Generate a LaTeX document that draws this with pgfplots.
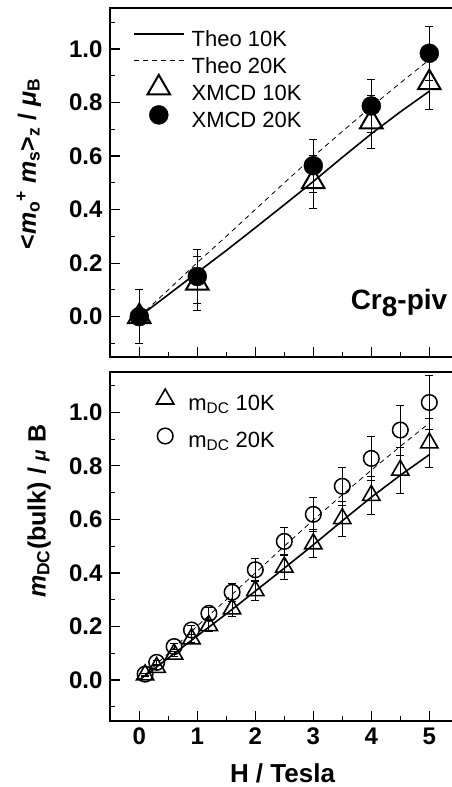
\documentclass[border=0pt]{standalone}
\usepackage{fontspec}
\setmainfont{Liberation Sans}
\usepackage{pgfplots}
\pgfplotsset{compat=1.18}
\newcommand{\fs}[1]{\fontsize{#1}{#1}\selectfont}

\pgfplotstableread{
x y
0 0
0.5 0.082
1 0.165
1.5 0.247
2 0.332
2.5 0.418
3 0.505
3.5 0.595
4 0.683
4.5 0.765
5 0.842
}\theoA
\pgfplotstableread{
x y
0 0
0.5 0.10
1 0.202
1.5 0.30
2 0.40
2.5 0.50
3 0.598
3.5 0.692
4 0.784
4.5 0.873
5 0.96
}\theoB
\pgfplotstableread{
x y e
0 0 0.1
1 0.125 0.1
3 0.504 0.1
4 0.728 0.1
5 0.874 0.1
}\xmcdA
\pgfplotstableread{
x y e
0 0 0.1
1 0.15 0.1
3 0.564 0.1
4 0.787 0.1
5 0.984 0.1
}\xmcdB
\pgfplotstableread{
x y e
0.1 0.019 0.004
0.3 0.047 0.006
0.6 0.097 0.010
0.9 0.154 0.015
1.2 0.203 0.020
1.6 0.266 0.027
2.0 0.334 0.038
2.5 0.422 0.046
3.0 0.509 0.052
3.5 0.603 0.065
4.0 0.690 0.072
4.5 0.784 0.085
5.0 0.886 0.092
}\dcA
\pgfplotstableread{
x y e
0.1 0.022 0.004
0.3 0.066 0.007
0.6 0.125 0.012
0.9 0.187 0.018
1.2 0.249 0.024
1.6 0.328 0.034
2.0 0.412 0.043
2.5 0.518 0.051
3.0 0.619 0.062
3.5 0.724 0.072
4.0 0.828 0.083
4.5 0.934 0.093
5.0 1.037 0.100
}\dcB

\pgfplotsset{
  panel/.style={
    scale only axis, width=345pt, height=349pt,
    xmin=-0.505, xmax=5.443, ymin=-0.152, ymax=1.152,
    xtick={0,1,2,3,4,5}, minor xtick={0.5,1.5,2.5,3.5,4.5},
    ytick={0,0.2,0.4,0.6,0.8,1.0}, minor ytick={-0.1,0.1,0.3,0.5,0.7,0.9,1.1},
    xtick pos=left, ytick pos=left, tick align=inside,
    major tick length=10pt, minor tick length=5pt,
    tick style={black, line width=1.1pt},
    axis line style={line width=1.8pt},
    /pgf/number format/assume math mode=true,
    xticklabel style={font=\fs{24}\bfseries, yshift=-4pt},
    yticklabel style={font=\fs{24}\bfseries, xshift=-4pt, /pgf/number format/.cd, fixed, fixed zerofill, precision=1},
    error bars/error bar style={line width=0.8pt, black},
    error bars/error mark options={rotate=90, mark size=4pt, line width=0.8pt, black},
    legend cell align=left,
  },
  lineleg/.style={legend image code/.code={\draw[##1, yshift=7pt] (0pt,0pt) -- (50pt,0pt);}},
  markleg/.style={legend image code/.code={\path (0pt,0pt) (50pt,0pt); \draw[##1, yshift=7pt, overlay] plot coordinates {(25pt,0pt)};}},
  markbleg/.style={legend image code/.code={\path (0pt,0pt) (40pt,0pt); \draw[##1, yshift=7pt, overlay] plot coordinates {(25pt,0pt)};}},
}

\begin{document}
\begin{tikzpicture}
\begin{axis}[panel, name=top, xticklabels={},
  ylabel={\fs{25}\bfseries <\textit{m}\textsubscript{o}\textsuperscript{+} \textit{m}\textsubscript{s}>\textsubscript{z} / \textit{μ}\textsubscript{B}},
  ylabel style={at={(axis description cs:-0.235,0.554)}, anchor=center},
  legend style={draw=none, fill=none, at={(rel axis cs:0,1)}, anchor=north west,
    xshift=23pt, yshift=-22.6pt, inner sep=0pt, outer sep=0pt, font=\fs{22},
    row sep=7pt, column sep=7pt,
    nodes={inner sep=0pt, text height=16pt, text depth=4pt}},
]
\addplot[black, line width=1.6pt, lineleg] table[x=x,y=y] {\theoA};
\addlegendentry{Theo 10K}
\addplot[black, line width=0.8pt, dash pattern=on 5pt off 4pt, lineleg] table[x=x,y=y] {\theoB};
\addlegendentry{Theo 20K}
\addplot[only marks, mark=triangle, mark size=13pt, mark options={line width=2pt, fill=white, draw=black}, markleg,
  error bars/.cd, y dir=both, y explicit] table[x=x,y=y,y error=e] {\xmcdA};
\addlegendentry{XMCD 10K}
\addplot[only marks, mark=*, mark size=9.5pt, mark options={fill=black, draw=black}, markleg,
  error bars/.cd, y dir=both, y explicit] table[x=x,y=y,y error=e] {\xmcdB};
\addlegendentry{XMCD 20K}
\node[anchor=east, font=\fs{28}\bfseries] at (axis cs:5.37,0.05) {Cr\raisebox{-7pt}{8}-piv};
\end{axis}

\begin{axis}[panel, name=bot, at={(top.south west)}, anchor=north west, yshift=-14.4pt,
  xlabel={\fs{26}\bfseries H / Tesla},
  xlabel style={at={(axis description cs:0.5,-0.15)}, anchor=center},
  ylabel={\fs{25}\bfseries \textit{m}\textsubscript{DC}(bulk) / {\fs{19}\textit{μ}} B},
  ylabel style={at={(axis description cs:-0.205,0.60)}, anchor=center},
  legend style={draw=none, fill=none, at={(rel axis cs:0,1)}, anchor=north west,
    xshift=30pt, yshift=-22.3pt, inner sep=0pt, outer sep=0pt, font=\fs{22},
    row sep=13pt, column sep=8pt,
    nodes={inner sep=0pt, text height=16pt, text depth=8pt}},
]
\addplot[black, line width=1.6pt, forget plot] table[x=x,y=y] {\theoA};
\addplot[black, line width=0.8pt, dash pattern=on 5pt off 4pt, forget plot] table[x=x,y=y] {\theoB};
\addplot[only marks, mark=triangle, mark size=10pt, mark options={line width=1.6pt, draw=black}, markbleg,
  error bars/.cd, y dir=both, y explicit] table[x=x,y=y,y error=e] {\dcA};
\addlegendentry{m\textsubscript{DC} 10K}
\addplot[only marks, mark=o, mark size=7.8pt, mark options={line width=1.5pt, draw=black}, markbleg,
  error bars/.cd, y dir=both, y explicit] table[x=x,y=y,y error=e] {\dcB};
\addlegendentry{m\textsubscript{DC} 20K}
\end{axis}
\pgfresetboundingbox
\path[use as bounding box] ([xshift=-110pt,yshift=8.3pt]top.north west) rectangle ([xshift=341pt,yshift=-66.3pt]bot.south west);
\end{tikzpicture}
\end{document}
